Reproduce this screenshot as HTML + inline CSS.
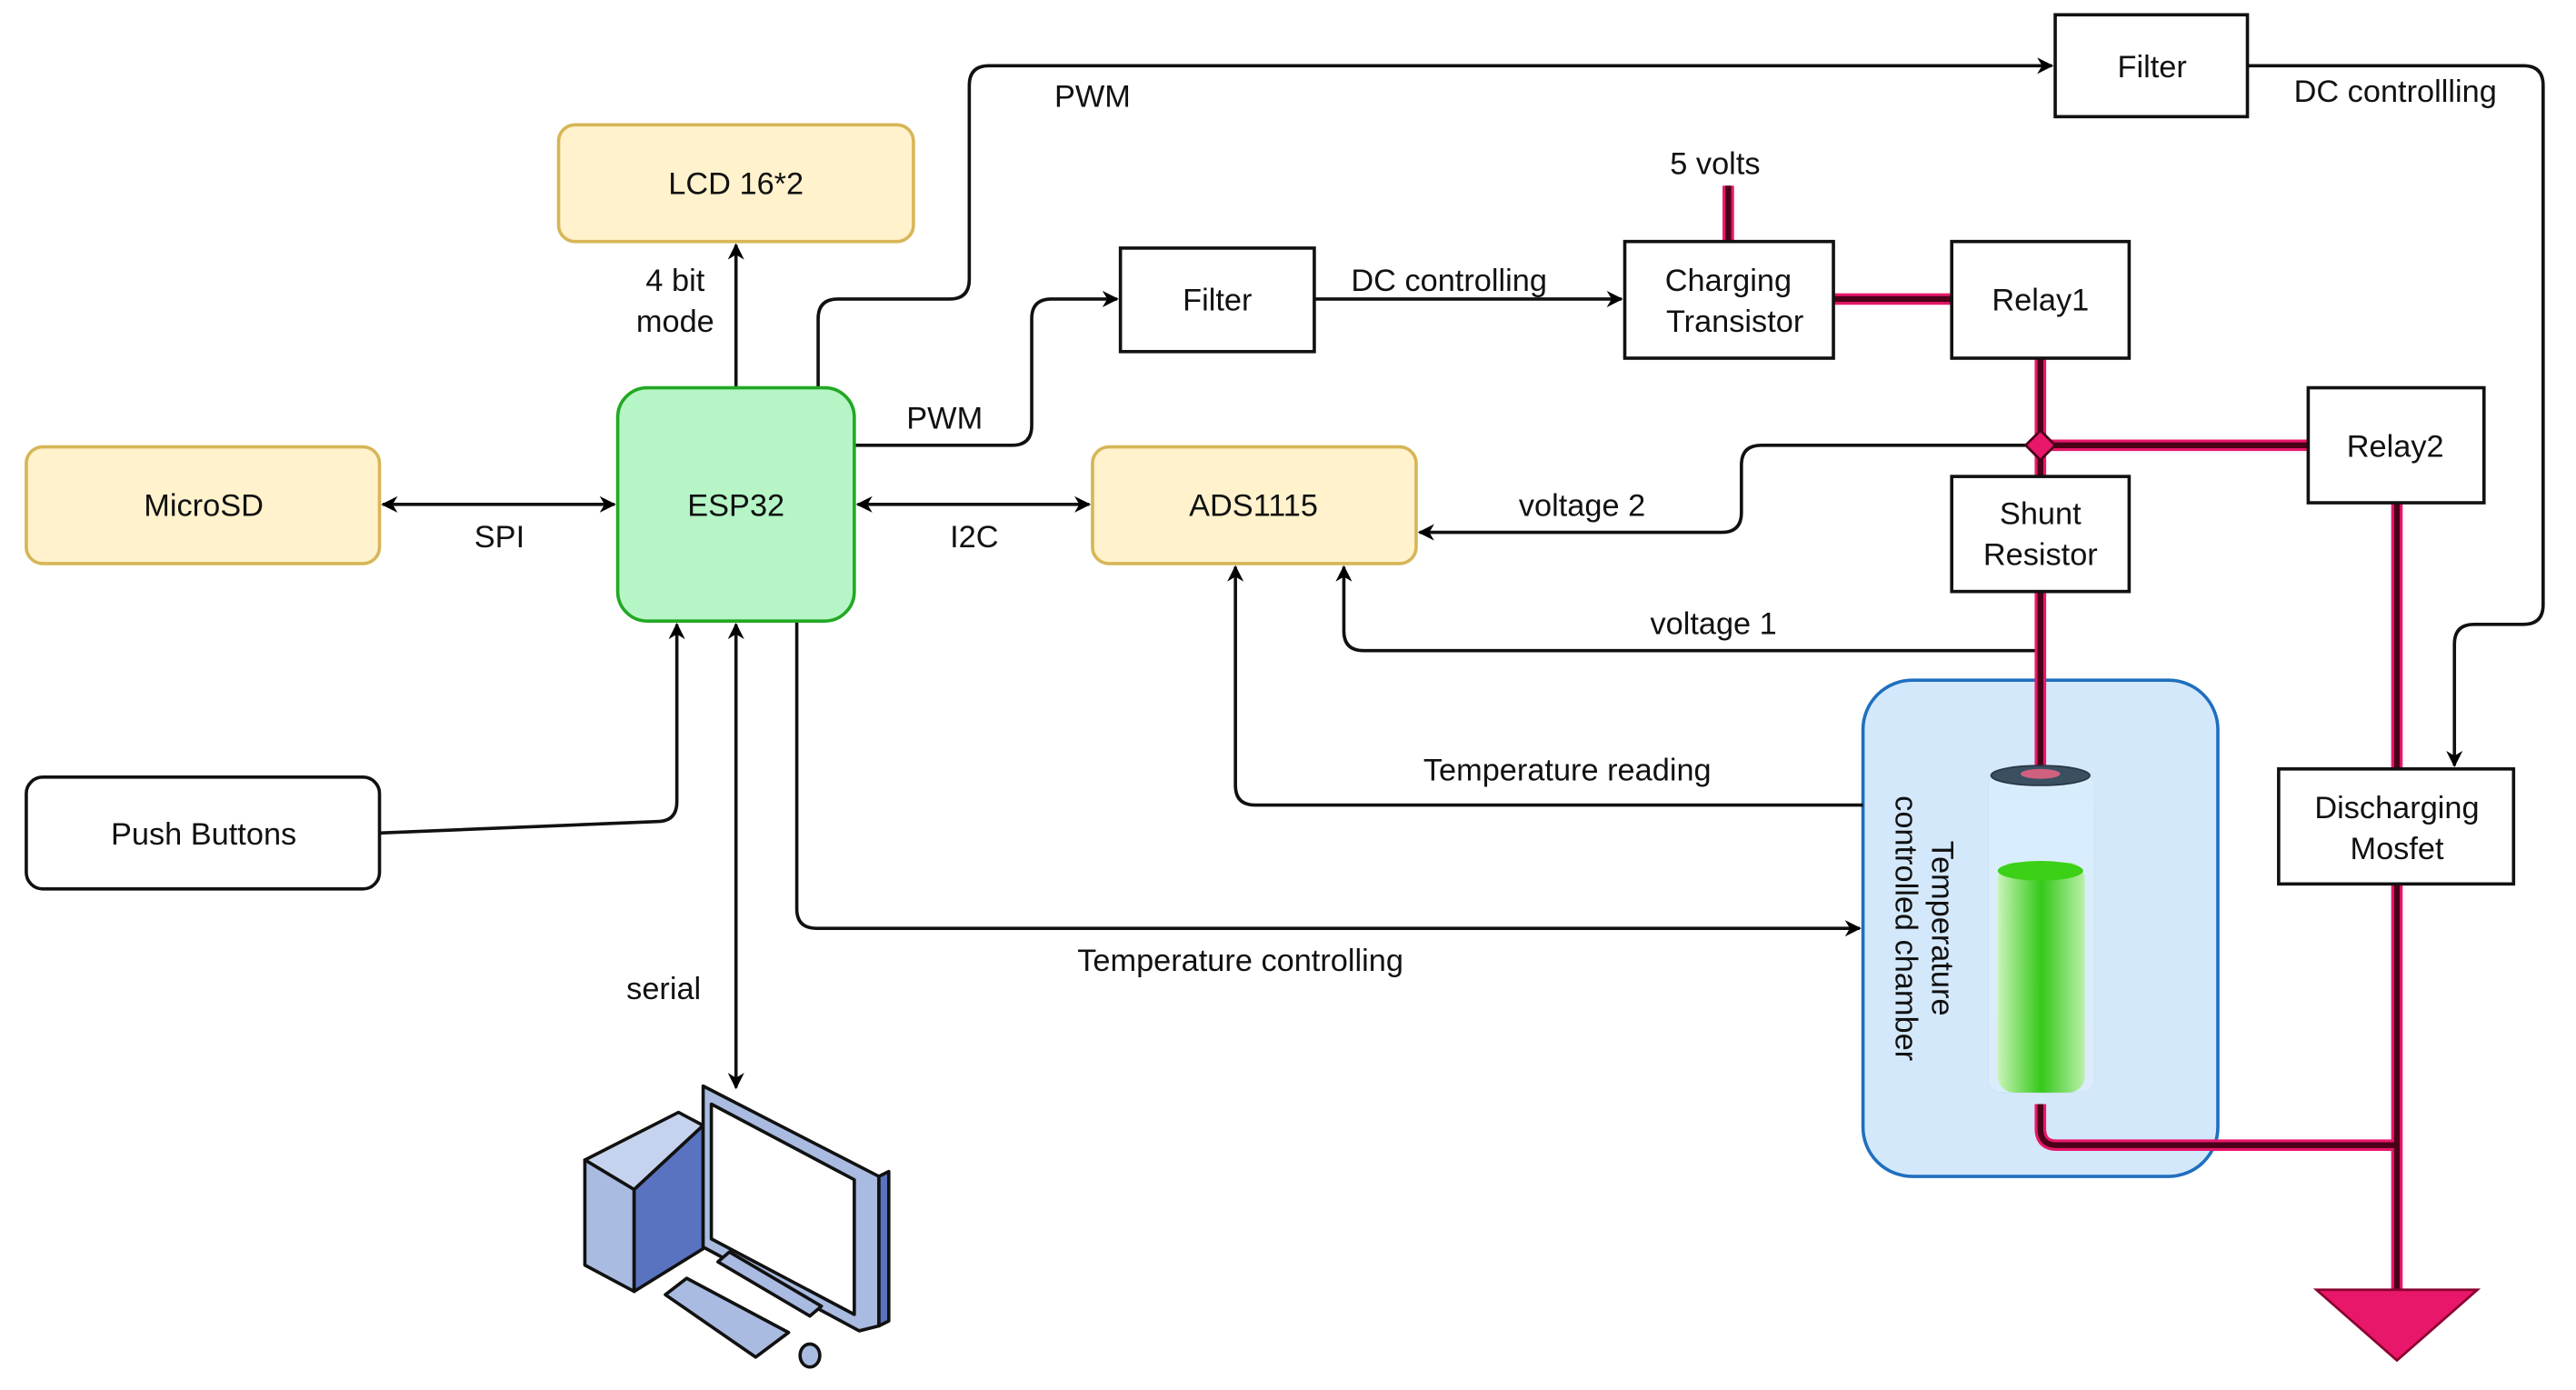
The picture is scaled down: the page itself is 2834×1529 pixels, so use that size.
<!DOCTYPE html>
<html><head><meta charset="utf-8"><style>
html,body{margin:0;padding:0;background:#fff;}
svg{display:block;}
text{font-family:"Liberation Sans",sans-serif;font-size:19px;fill:#111;}
</style></head><body>
<svg width="2834" height="1529" viewBox="0 0 1568 846" preserveAspectRatio="none" xmlns="http://www.w3.org/2000/svg">
<defs>
<marker id="a" markerWidth="10" markerHeight="10" refX="9" refY="5" orient="auto" markerUnits="userSpaceOnUse"><path d="M0,0 L10,5 L0,10 L3,5 z" fill="#000"/></marker>
<marker id="s" markerWidth="10" markerHeight="10" refX="1" refY="5" orient="auto" markerUnits="userSpaceOnUse"><path d="M10,0 L0,5 L10,10 L7,5 z" fill="#000"/></marker>
<linearGradient id="g" x1="0" x2="1"><stop offset="0" stop-color="#c8f5b0"/><stop offset="0.5" stop-color="#22c400"/><stop offset="1" stop-color="#b8f0a0"/></linearGradient>
<linearGradient id="gt" x1="0" y1="0" x2="0" y2="1"><stop offset="0" stop-color="#d8f0ff" stop-opacity="0.6"/><stop offset="1" stop-color="#eaf6ff" stop-opacity="0.3"/></linearGradient>
</defs>
<rect width="1568" height="846" fill="#fff"/>

<rect x="1134" y="414" width="216" height="302" rx="30" fill="#d4e8fb" stroke="#1f6fbf" stroke-width="2"/>

<g fill="none" stroke="#111" stroke-width="2">
<path d="M448,236 V149" marker-end="url(#a)"/>
<path d="M498,236 V194 Q498,182 510,182 H578 Q590,182 590,170 V52 Q590,40 602,40 H1249" marker-end="url(#a)"/>
<path d="M520,271 H616 Q628,271 628,259 V194 Q628,182 640,182 H680" marker-end="url(#a)"/>
<path d="M233,307 H374" marker-start="url(#s)" marker-end="url(#a)"/>
<path d="M522,307 H663" marker-start="url(#s)" marker-end="url(#a)"/>
<path d="M800,182 H987" marker-end="url(#a)"/>
<path d="M1242,271 H1072 Q1060,271 1060,283 V312 Q1060,324 1048,324 H864" marker-end="url(#a)"/>
<path d="M1242,396 H830 Q818,396 818,384 V345" marker-end="url(#a)"/>
<path d="M1134,490 H764 Q752,490 752,478 V345" marker-end="url(#a)"/>
<path d="M485,378 V553 Q485,565 497,565 H1132" marker-end="url(#a)"/>
<path d="M231,507 L400,500 Q412,500 412,488 V380" marker-end="url(#a)"/>
<path d="M448,380 V662" marker-start="url(#s)" marker-end="url(#a)"/>
<path d="M1368,40 H1536 Q1548,40 1548,52 V368 Q1548,380 1536,380 H1506 Q1494,380 1494,392 V466" marker-end="url(#a)"/>
</g>

<g fill="none" stroke-linecap="butt">
<g stroke="#e8176a" stroke-width="7">
<path d="M1052,113 V147"/><path d="M1116,182 H1188"/><path d="M1242,218 V290"/><path d="M1242,271 H1405"/>
<path d="M1242,360 V468"/><path d="M1459,306 V468"/><path d="M1459,538 V785"/>
<path d="M1242,672 V687 Q1242,697 1252,697 H1459"/>
</g>
<g stroke="#4a0018" stroke-width="3.5">
<path d="M1052,113 V147"/><path d="M1116,182 H1188"/><path d="M1242,218 V290"/><path d="M1242,271 H1405"/>
<path d="M1242,360 V468"/><path d="M1459,306 V468"/><path d="M1459,538 V785"/>
<path d="M1242,672 V687 Q1242,697 1252,697 H1459"/>
</g>
</g>
<path d="M1242,262 L1251,271 L1242,280 L1233,271 z" fill="#e8176a" stroke="#4a0018" stroke-width="1.5"/>
<path d="M1410,785 H1508 L1459,828 z" fill="#e8176a" stroke="#8a0030" stroke-width="1.5"/>

<rect x="1210" y="470" width="65" height="195" rx="8" fill="url(#gt)" stroke="#cfe6f5" stroke-width="1"/>
<rect x="1216" y="525" width="53" height="140" rx="10" fill="url(#g)" opacity="0.9"/>
<ellipse cx="1242" cy="530" rx="26" ry="6" fill="#3cd016"/>
<ellipse cx="1242" cy="472" rx="30" ry="6" fill="#3a5060" stroke="#2a3848"/>
<ellipse cx="1242" cy="471" rx="12" ry="3" fill="#d06080"/>

<g stroke-width="2">
<rect x="340" y="76" width="216" height="71" rx="10" fill="#fff2cc" stroke="#d6b656"/>
<rect x="16" y="272" width="215" height="71" rx="10" fill="#fff2cc" stroke="#d6b656"/>
<rect x="665" y="272" width="197" height="71" rx="10" fill="#fff2cc" stroke="#d6b656"/>
<rect x="376" y="236" width="144" height="142" rx="18" fill="#b5f5c6" stroke="#22a822"/>
<rect x="16" y="473" width="215" height="68" rx="10" fill="#fff" stroke="#111"/>
<rect x="682" y="151" width="118" height="63" fill="#fff" stroke="#111"/>
<rect x="1251" y="9" width="117" height="62" fill="#fff" stroke="#111"/>
<rect x="989" y="147" width="127" height="71" fill="#fff" stroke="#111"/>
<rect x="1188" y="147" width="108" height="71" fill="#fff" stroke="#111"/>
<rect x="1405" y="236" width="107" height="70" fill="#fff" stroke="#111"/>
<rect x="1188" y="290" width="108" height="70" fill="#fff" stroke="#111"/>
<rect x="1387" y="468" width="143" height="70" fill="#fff" stroke="#111"/>
</g>

<!-- computer -->
<g stroke="#111" stroke-width="2" stroke-linejoin="round">
<polygon points="356,706 413,677 428,685 386,724" fill="#c6d3ee"/>
<polygon points="356,706 386,724 386,786 356,770" fill="#a9bbe0"/>
<polygon points="386,724 428,685 428,760 386,786" fill="#5a73c0"/>
<polygon points="428,661 535,716 535,807 523,810 428,759" fill="#a9bbe0"/>
<polygon points="433,672 520,718 520,800 433,754" fill="#fff"/>
<polygon points="535,716 541,713 541,804 535,807" fill="#5a73c0"/>
<polygon points="437,768 444,762 500,795 493,801" fill="#a9bbe0"/>
<polygon points="405,788 418,778 480,811 460,826" fill="#a9bbe0"/>
<ellipse cx="493" cy="825" rx="6" ry="7" fill="#a9bbe0"/>
</g>

<g text-anchor="middle">
<text x="448" y="118">LCD 16*2</text>
<text x="124" y="314">MicroSD</text>
<text x="448" y="314">ESP32</text>
<text x="763" y="314">ADS1115</text>
<text x="124" y="514">Push Buttons</text>
<text x="741" y="189">Filter</text>
<text x="1310" y="47">Filter</text>
<text x="1052" y="177">Charging</text>
<text x="1056" y="202">Transistor</text>
<text x="1242" y="189">Relay1</text>
<text x="1458" y="278">Relay2</text>
<text x="1242" y="319">Shunt</text>
<text x="1242" y="344">Resistor</text>
<text x="1459" y="498">Discharging</text>
<text x="1459" y="523">Mosfet</text>
<text x="411" y="177">4 bit</text>
<text x="411" y="202">mode</text>
<text x="665" y="65">PWM</text>
<text x="575" y="261">PWM</text>
<text x="304" y="333">SPI</text>
<text x="593" y="333">I2C</text>
<text x="882" y="177">DC controlling</text>
<text x="1458" y="62">DC controllling</text>
<text x="1044" y="106">5 volts</text>
<text x="963" y="314">voltage 2</text>
<text x="1043" y="386">voltage 1</text>
<text x="954" y="475">Temperature reading</text>
<text x="755" y="591">Temperature controlling</text>
<text x="404" y="608">serial</text>
<g transform="translate(1168,565) rotate(90)">
<text x="0" y="-8">Temperature</text>
<text x="0" y="14">controlled chamber</text>
</g>
</g>
</svg>
</body></html>
